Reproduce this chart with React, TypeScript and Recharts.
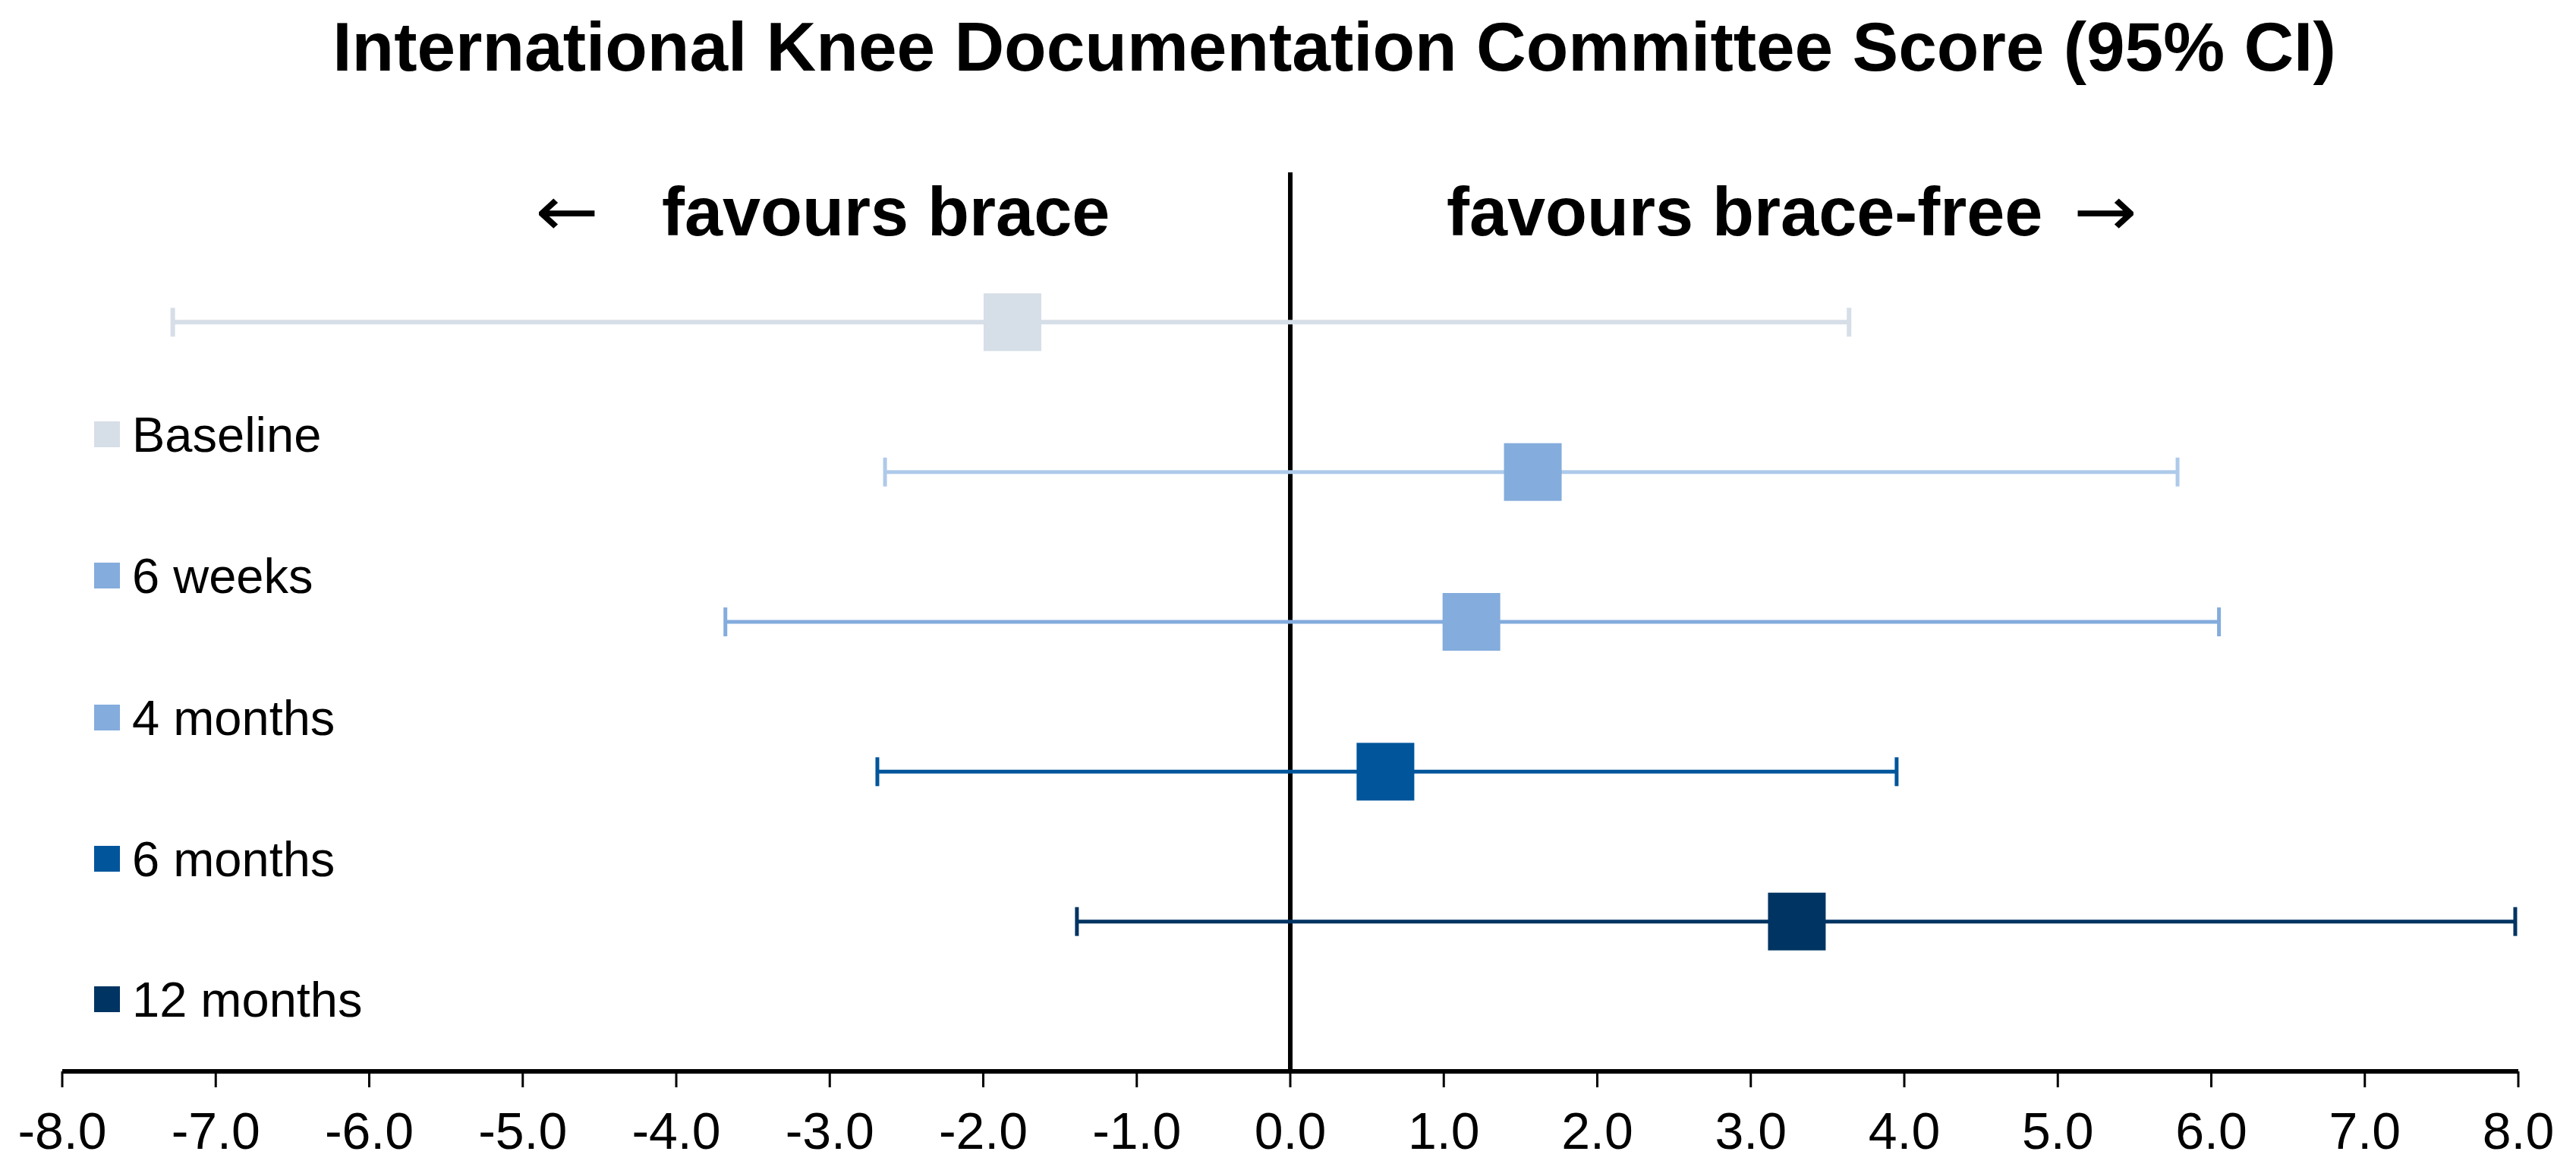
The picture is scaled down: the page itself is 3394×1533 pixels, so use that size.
import { ScatterChart, Scatter, XAxis, YAxis, ErrorBar, ReferenceLine } from 'recharts';

// Forest plot rows, top to bottom
const periods = ['Baseline', '6 weeks', '4 months', '6 months', '12 months'];
const rowPos = [5, 4, 3, 2, 1];
const meanDiff = [-1.81, 1.58, 1.18, 0.62, 3.3];
const ciLow = [-7.28, -2.64, -3.68, -2.69, -1.39];
const ciHigh = [3.64, 5.78, 6.05, 3.95, 7.98];

const boxColors = ['#D6DEE7', '#84ACDD', '#84ACDD', '#00559B', '#003462'];
const whiskerColors = ['#D6DEE7', '#AECAEA', '#84ACDD', '#00559B', '#003462'];
const whiskerWidths = [6, 5, 5, 5, 5];

const xTicks = [-8, -7, -6, -5, -4, -3, -2, -1, 0, 1, 2, 3, 4, 5, 6, 7, 8];

const FONT = '"Liberation Sans", Arial, sans-serif';
const W = 3394;
const H = 1533;

// legend row centres (px)
const legendY = [572, 758, 945, 1131, 1316];

export default function App() {
  const series = periods.map((name, i) => ({
    name,
    data: [
      {
        x: meanDiff[i],
        y: rowPos[i],
        err: [+(meanDiff[i] - ciLow[i]).toFixed(2), +(ciHigh[i] - meanDiff[i]).toFixed(2)],
      },
    ],
  }));

  return (
    <div style={{ position: 'absolute', left: 0, top: 0, width: W, height: H, background: '#fff' }}>
      <ScatterChart width={W} height={H} margin={{ top: 227, right: 76, left: 82, bottom: 22 }}>
        <XAxis
          type="number"
          dataKey="x"
          domain={[-8, 8]}
          ticks={xTicks}
          interval={0}
          allowDataOverflow
          tickFormatter={(v: number) => v.toFixed(1)}
          axisLine={{ stroke: '#000', strokeWidth: 6 }}
          tickLine={{ stroke: '#000', strokeWidth: 3 }}
          tickSize={21}
          tickMargin={33}
          height={100}
          tick={{ fontSize: 68, fill: '#000', fontFamily: FONT }}
        />
        <YAxis type="number" dataKey="y" domain={[0, 6]} hide width={0} />
        <ReferenceLine x={0} stroke="#000" strokeWidth={6} />
        {series.map((s, i) => (
          <Scatter
            key={s.name}
            name={s.name}
            data={s.data}
            fill={boxColors[i]}
            isAnimationActive={false}
            shape={(p: any) => (
              <rect x={p.cx - 38} y={p.cy - 38} width={76} height={76} fill={boxColors[i]} />
            )}
          >
            <ErrorBar
              dataKey="err"
              direction="x"
              width={19}
              stroke={whiskerColors[i]}
              strokeWidth={whiskerWidths[i]}
              isAnimationActive={false}
            />
          </Scatter>
        ))}
      </ScatterChart>

      <svg
        width={W}
        height={H}
        style={{ position: 'absolute', left: 0, top: 0, pointerEvents: 'none' }}
      >
        <text x={1758} y={93} textAnchor="middle" fontFamily={FONT} fontWeight="bold" fontSize={91} fill="#000">
          International Knee Documentation Committee Score (95% CI)
        </text>

        {/* direction hints */}
        <text x={705} y={310} fontFamily='"DejaVu Sans", sans-serif' fontSize={92} textLength={84} lengthAdjust="spacingAndGlyphs" fill="#000">
          ←
        </text>
        <text x={872} y={310} fontFamily={FONT} fontWeight="bold" fontSize={90} fill="#000">
          favours brace
        </text>
        <text x={1906} y={310} fontFamily={FONT} fontWeight="bold" fontSize={90} fill="#000">
          favours brace-free
        </text>
        <text x={2732} y={310} fontFamily='"DejaVu Sans", sans-serif' fontSize={92} textLength={84} lengthAdjust="spacingAndGlyphs" fill="#000">
          →
        </text>

        {/* legend */}
        {periods.map((name, i) => (
          <g key={name}>
            <rect x={124} y={legendY[i] - 17} width={34} height={34} fill={boxColors[i]} />
            <text x={174} y={legendY[i] + 23} fontFamily={FONT} fontSize={65} fill="#000">
              {name}
            </text>
          </g>
        ))}
      </svg>
    </div>
  );
}
